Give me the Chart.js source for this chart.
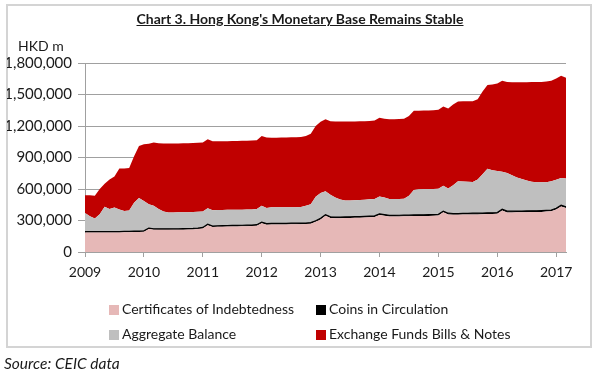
<!DOCTYPE html>
<html>
<head>
<meta charset="utf-8">
<script src="https://cdn.jsdelivr.net/npm/chart.js@4"></script>
<style>
  body { margin: 0; width: 600px; height: 380px; position: relative; background: #fff; font-family: Lato, "Open Sans", sans-serif; color: #1a1a1a; }
  #frame { position: absolute; left: 6px; top: 4px; width: 582px; height: 340px; border: 2px solid #d4d4d4; }
  #wrap { position: absolute; left: 0; top: 0; width: 600px; height: 380px; }
  #title { position: absolute; left: 0; width: 600px; top: 10px; text-align: center; font-weight: bold; font-size: 14px; text-decoration: underline; }
  #unit { position: absolute; left: 18px; top: 37px; font-size: 14px; }
  #legend { position: absolute; left: 0; top: 0; }
  .item { position: absolute; font-size: 14px; white-space: nowrap; line-height: 16px; }
  .item span { display: inline-block; width: 10px; height: 10px; margin-right: 3px; vertical-align: -1px; }
  #source { position: absolute; left: 4px; top: 354px; font-size: 15.5px; font-style: italic; }
</style>
</head>
<body>
<div id="frame"></div>
<div id="wrap"><canvas id="baseChart"></canvas></div>
<div id="title">Chart 3. Hong Kong's Monetary Base Remains Stable</div>
<div id="unit">HKD m</div>
<div id="legend"></div>
<div id="source">Source: CEIC data</div>
<script>
// Monthly, Jan 2009 - Mar 2017, values in HKD m (thousands below, x1000)
var anoInicio = 2009;
var meses = [];
for (var i = 0; i < 99; i++) {
   var a = anoInicio + Math.floor(i / 12);
   var m = (i % 12) + 1;
   meses.push(a + "-" + (m < 10 ? "0" + m : m));
}

var certificados = [
   185, 185, 185, 185, 185, 185, 185, 185, 187, 188, 190, 190,
   192, 218, 212, 211, 211, 211, 212, 212, 213, 214, 215, 218,
   224, 255, 237, 240, 241, 242, 243, 244, 245, 246, 247, 250,
   275, 260, 262, 262, 263, 263, 264, 264, 265, 266, 270, 288,
   310, 345, 325, 322, 322, 323, 324, 326, 327, 329, 331, 333,
   352, 345, 338, 338, 339, 340, 340, 342, 343, 343, 344, 345,
   348, 378, 358, 355, 355, 356, 357, 358, 358, 360, 362, 362,
   364, 396, 377, 377, 378, 378, 379, 380, 380, 382, 385, 388,
   405, 434, 418
];
var moedas = [
   8.9, 8.9, 8.9, 8.9, 8.9, 8.9, 8.9, 8.9, 8.9, 8.9, 8.9, 8.9,
   9.3, 9.3, 9.3, 9.3, 9.3, 9.3, 9.3, 9.3, 9.3, 9.3, 9.3, 9.3,
   9.8, 9.8, 9.8, 9.8, 9.8, 9.8, 9.8, 9.8, 9.8, 9.8, 9.8, 9.8,
   10.2, 10.2, 10.2, 10.2, 10.2, 10.2, 10.2, 10.2, 10.2, 10.2, 10.2, 10.2,
   10.7, 10.7, 10.7, 10.7, 10.7, 10.7, 10.7, 10.7, 10.7, 10.7, 10.7, 10.7,
   11.1, 11.1, 11.1, 11.1, 11.1, 11.1, 11.1, 11.1, 11.1, 11.1, 11.1, 11.1,
   11.6, 11.6, 11.6, 11.6, 11.6, 11.6, 11.6, 11.6, 11.6, 11.6, 11.6, 11.6,
   12.0, 12.0, 12.0, 12.0, 12.0, 12.0, 12.0, 12.0, 12.0, 12.0, 12.0, 12.0,
   12.2, 12.2, 12.2
];
var saldoAgregado = [
   177, 146, 126, 166, 236, 216, 231, 211, 194, 198, 271, 316,
   284, 228, 219, 190, 165, 157, 156, 157, 156, 156, 156, 155,
   152, 153, 151, 150, 150, 150, 149, 149, 148, 148, 148, 150,
   156, 150, 153, 153, 153, 153, 153, 153, 153, 164, 175, 227,
   241, 222, 209, 187, 167, 156, 155, 155, 157, 158, 160, 161,
   165, 164, 156, 156, 155, 157, 184, 237, 244, 245, 245, 244,
   242, 242, 235, 268, 307, 304, 301, 298, 320, 368, 419, 406,
   396, 357, 363, 341, 320, 305, 289, 276, 272, 270, 268, 275,
   271, 259, 270
];
var titulosFundo = [
   169, 200, 215, 240, 220, 280, 295, 390, 405, 405, 443, 495,
   541, 575, 602, 625, 647, 655, 656, 656, 657, 657, 658, 658,
   656, 657, 657, 655, 655, 654, 655, 655, 656, 656, 656, 655,
   664, 670, 663, 664, 664, 665, 665, 666, 667, 665, 670, 675,
   678, 687, 700, 723, 742, 753, 753, 752, 750, 748, 746, 747,
   750, 750, 760, 760, 761, 760, 760, 755, 748, 748, 748, 750,
   753, 753, 763, 770, 759, 763, 765, 768, 765, 790, 797, 815,
   833, 867, 868, 887, 907, 922, 937, 950, 954, 956, 960, 957,
   964, 973, 960
];
var escala = 1000;

var series = [
   { label: "Certificates of Indebtedness", data: certificados, cor: "#e6b8b7" },
   { label: "Coins in Circulation", data: moedas, cor: "#000000" },
   { label: "Aggregate Balance", data: saldoAgregado, cor: "#bfbfbf" },
   { label: "Exchange Funds Bills & Notes", data: titulosFundo, cor: "#c00000" },
];

var cinza = "#a0a0a0";

var baseChart = new Chart(document.getElementById("baseChart").getContext("2d"), {
   type: "line",
   data: {
      labels: meses,
      datasets: series.map(function (s, k) {
         return {
            label: s.label,
            data: s.data.map(function (v) { return v * escala; }),
            backgroundColor: s.cor,
            borderColor: s.cor,
            borderWidth: k === 1 ? 1.2 : 0,
            pointRadius: 0,
            fill: k === 0 ? "origin" : "-1",
            tension: 0,
         };
      }),
   },
   options: {
      responsive: true,
      maintainAspectRatio: false,
      animation: false,
      layout: { padding: { left: 7, right: 34, top: 63, bottom: 88 } },
      scales: {
         x: {
            ticks: {
               autoSkip: false,
               maxRotation: 0,
               padding: 7,
               color: "#1a1a1a",
               font: { family: "Lato", size: 14 },
               callback: function (v, idx) {
                  var lab = meses[idx];
                  return lab.slice(5) === "01" ? lab.slice(0, 4) : null;
               },
            },
            grid: { drawOnChartArea: false, tickLength: 5, color: cinza },
            border: { color: cinza },
            afterFit: function (axis) { axis.height = 40; },
         },
         y: {
            stacked: true,
            min: 0,
            max: 1800000,
            ticks: {
               stepSize: 300000,
               padding: 6,
               color: "#1a1a1a",
               font: { family: "Lato", size: 15 },
               callback: function (v) { return v.toLocaleString("en-US"); },
            },
            grid: { color: cinza, tickLength: 7 },
            border: { color: cinza },
            afterFit: function (axis) { axis.width = 78; },
         },
      },
      plugins: {
         legend: { display: false },
         tooltip: { enabled: false },
      },
   },
});

// Legenda em HTML (2 x 2)
var posLegenda = [[109, 301], [316, 301], [109, 326], [316, 326]];
var legenda = document.getElementById("legend");
series.forEach(function (s, j) {
   var d = document.createElement("div");
   d.className = "item";
   d.style.left = posLegenda[j][0] + "px";
   d.style.top = posLegenda[j][1] + "px";
   d.innerHTML = '<span style="background:' + s.cor + '"></span>' + s.label;
   legenda.appendChild(d);
});
</script>
</body>
</html>
